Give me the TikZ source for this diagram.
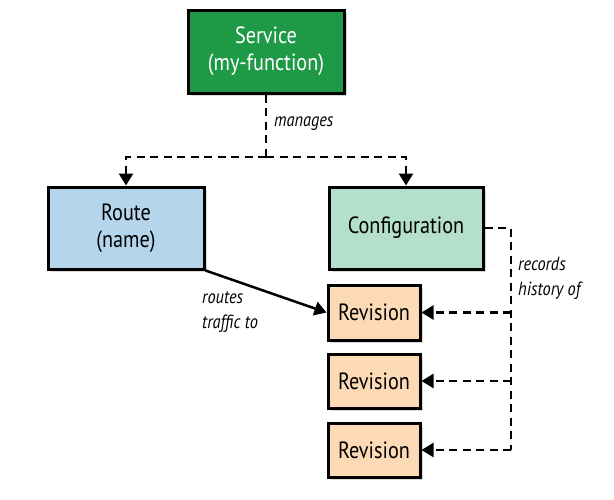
\documentclass[tikz,border=0pt]{standalone}
\usepackage{fontspec}
\setmainfont[FakeStretch=0.86]{PT Sans}
\usetikzlibrary{arrows.meta,shadows}
\definecolor{svcgreen}{HTML}{1E9A47}
\definecolor{routeblue}{HTML}{B4D5EB}
\definecolor{cfggreen}{HTML}{B3DFCB}
\definecolor{revorange}{HTML}{FCDAB6}
\tikzset{
  box/.style={draw=black, line width=3pt, align=center, inner sep=0pt,
    font=\fontsize{23.5}{27}\selectfont,
    drop shadow={opacity=0.3, shadow xshift=2.5pt, shadow yshift=-2.5pt}},
  dsh/.style={line width=2.5pt, dash pattern=on 8pt off 5.5pt},
  arr/.style={-{Triangle[width=14pt,length=12pt]}},
  lbl/.style={font=\itshape\fontsize{19}{25}\selectfont, anchor=west, align=left, inner sep=0pt}
}
\begin{document}
\begin{tikzpicture}[x=1pt,y=1pt]
\useasboundingbox (0,0) rectangle (614,-499);
\node[box, fill=svcgreen, text=white, minimum width=156pt, minimum height=83pt] (svc) at (266,-51.5) {Service\\(my-function)};
\node[box, fill=routeblue, minimum width=156pt, minimum height=82pt] (route) at (126,-228) {Route\\(name)};
\node[box, fill=cfggreen, minimum width=154pt, minimum height=82pt] (cfg) at (406,-228) {Configuration};
\node[box, fill=revorange, minimum width=92pt, minimum height=55pt] (rev1) at (374,-312.5) {Revision};
\node[box, fill=revorange, minimum width=92pt, minimum height=54pt] (rev2) at (374,-381) {Revision};
\node[box, fill=revorange, minimum width=92pt, minimum height=54pt] (rev3) at (374,-450) {Revision};

\coordinate (j) at (266,-157);
\draw[dsh] (svc.south) -- (j);
\draw[dsh, arr] (j) -| (route.north);
\draw[dsh, arr] (j) -| (cfg.north);
\node[lbl] (mlbl) at (274,-124) {manages};

\coordinate (k) at (511,-228);
\draw[dsh] (cfg.east) -- (k) -- (k |- rev3.east);
\draw[dsh, arr] (k |- rev1.east) -- (rev1.east);
\draw[dsh, arr] (k |- rev2.east) -- (rev2.east);
\draw[dsh, arr] (k |- rev3.east) -- (rev3.east);
\node[lbl] (rlbl) at (518,-278) {records\\history of};

\draw[line width=2.5pt, arr] (route.south east) -- (rev1.west);
\node[lbl] (tlbl) at (202,-312) {routes\\traffic to};
\end{tikzpicture}
\end{document}
